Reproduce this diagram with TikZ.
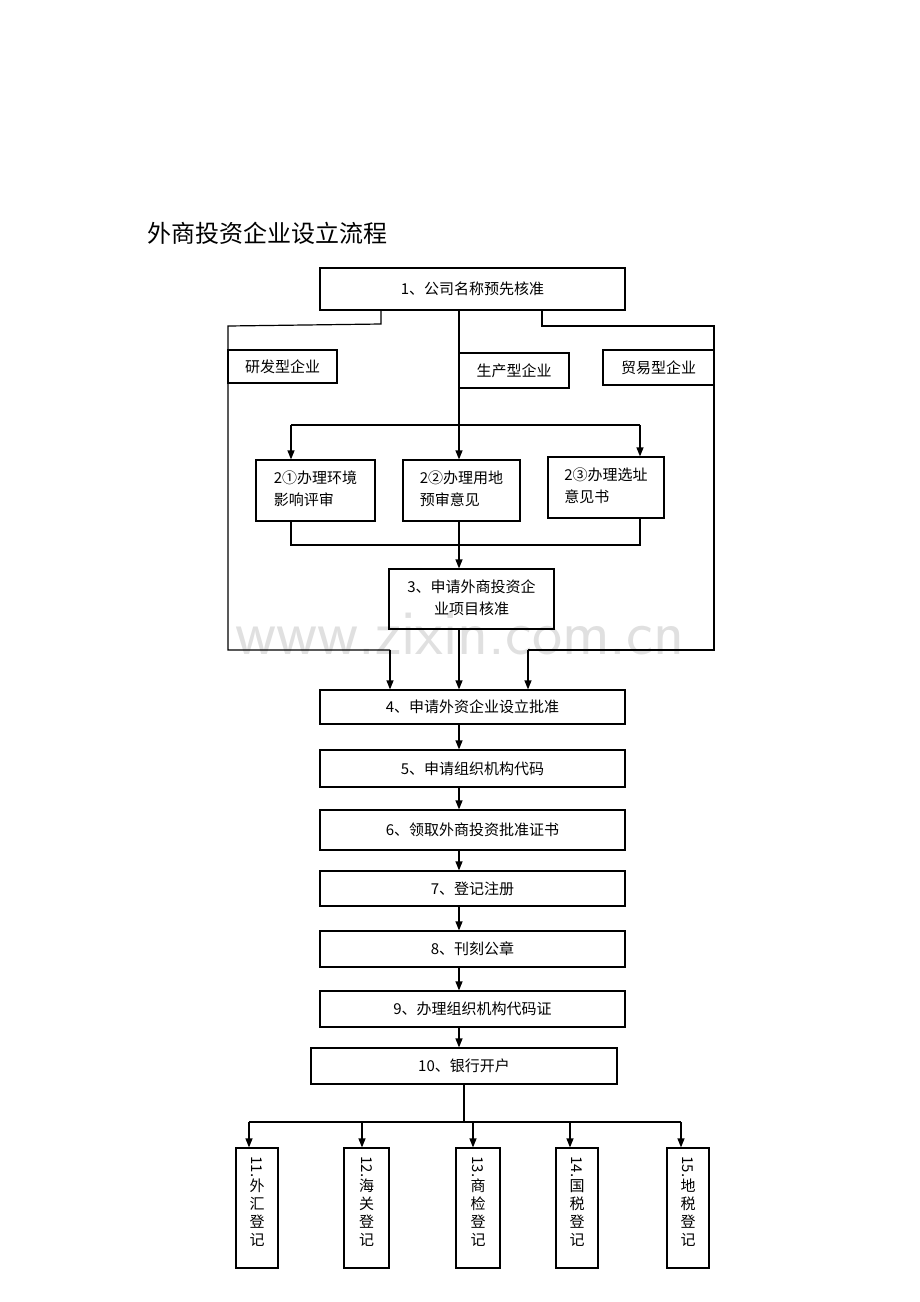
\documentclass[tikz,border=0pt]{standalone}
\usepackage{fontspec}
\setmainfont{Noto Sans CJK SC}
\usetikzlibrary{arrows.meta}
\begin{document}
\begin{tikzpicture}[x=0.5pt,y=-0.5pt,
 bx/.style={draw,line width=0.6pt,inner sep=0,font=\fontsize{7.5}{11}\selectfont},
 ln/.style={line width=0.6pt},
 ar/.style={line width=0.6pt,-{Triangle[length=4.5pt,width=3.5pt]}}]
\useasboundingbox (0,0) rectangle (920,1302);
\node[anchor=west,font=\fontsize{12}{14}\selectfont] (t) at (140,233) {外商投资企业设立流程};
\node[text=black!12,font=\fontsize{32}{36}\selectfont\sffamily] (wm) at (460,634) {www.zixin.com.cn};
\newcommand\bx[6]{\node[bx,minimum width=#4*0.5pt-#2*0.5pt,minimum height=#5*0.5pt-#3*0.5pt] (#1) at ({(#2+#4)/2},{(#3+#5)/2}) {#6};}
\bx{b1}{320}{268}{625}{310}{1、公司名称预先核准}
\bx{ra}{228}{350}{337}{383}{研发型企业}
\bx{sc}{459}{353}{569}{388}{生产型企业}
\bx{my}{603}{350}{714}{385}{贸易型企业}
\bx{c1}{256}{460}{375}{521}{\begin{tabular}{@{}l@{}}2①办理环境\\影响评审\end{tabular}}
\bx{c2}{403}{460}{520}{521}{\begin{tabular}{@{}l@{}}2②办理用地\\预审意见\end{tabular}}
\bx{c3}{548}{457}{664}{518}{\begin{tabular}{@{}l@{}}2③办理选址\\意见书\end{tabular}}
\bx{b3}{389}{569}{554}{629}{\begin{tabular}{@{}c@{}}3、申请外商投资企\\业项目核准\end{tabular}}
\bx{b4}{320}{690}{625}{724}{4、申请外资企业设立批准}
\bx{b5}{320}{750}{625}{787}{5、申请组织机构代码}
\bx{b6}{320}{810}{625}{850}{6、领取外商投资批准证书}
\bx{b7}{320}{871}{625}{906}{7、登记注册}
\bx{b8}{320}{931}{625}{967}{8、刊刻公章}
\bx{b9}{320}{991}{625}{1027}{9、办理组织机构代码证}
\bx{b10}{311}{1048}{617}{1084}{10、银行开户}
\newcommand\vb[6]{\node[bx,minimum width=#3*0.5pt-#2*0.5pt,minimum height=60pt] (#1) at ({(#2+#3)/2},1208) {};
 \node[font=\fontsize{7.5}{9}\selectfont,anchor=north,align=center,inner sep=0] (#1t) at ({(#2+#3)/2},1156) {\rotatebox{-90}{#4}\\#5\\#6};}
\vb{d1}{236}{278}{11.}{外\\汇\\登}{记}
\vb{d2}{344}{389}{12.}{海\\关\\登}{记}
\vb{d3}{456}{500}{13.}{商\\检\\登}{记}
\vb{d4}{556}{598}{14.}{国\\税\\登}{记}
\vb{d5}{667}{709}{15.}{地\\税\\登}{记}
% top branches
\coordinate (l1) at (381,324); \coordinate (l2) at (228,326); \coordinate (l3) at (228,650); \coordinate (l4) at (390,650);
\draw[ln] (b1.south -| l1) -- (l1) -- (l2) -- (l3) -- (l4);
\draw[ar] (l4) -- (b4.north -| l4);
\coordinate (r1) at (542,326); \coordinate (r2) at (714,326); \coordinate (r3) at (714,650); \coordinate (r4) at (528,650);
\draw[ln] (b1.south -| r1) -- (r1) -- (r2) -- (r3) -- (r4);
\draw[ar] (r4) -- (b4.north -| r4);
\coordinate (m1) at (459,425); \coordinate (ml) at (291,425); \coordinate (mr) at (640,425);
\draw[ln] (b1.south -| m1) -- (m1);
\draw[ln] (ml) -- (mr);
\draw[ar] (ml) -- (c1.north -| ml);
\draw[ar] (m1) -- (c2.north -| m1);
\draw[ar] (mr) -- (c3.north -| mr);
\coordinate (j1) at (291,545); \coordinate (j2) at (640,545); \coordinate (jm) at (459,545);
\draw[ln] (c1.south -| j1) -- (j1) -- (j2) -- (c3.south -| j2);
\draw[ln] (c2.south -| jm) -- (jm);
\draw[ar] (jm) -- (b3.north -| jm);
\draw[ar] (b3.south -| jm) -- (b4.north -| jm);
\foreach \a/\b in {b4/b5,b5/b6,b6/b7,b7/b8,b8/b9,b9/b10} \draw[ar] (\a.south -| jm) -- (\b.north -| jm);
\coordinate (k) at (464,1122); \coordinate (k1) at (249,1122); \coordinate (k5) at (681,1122);
\draw[ln] (b10.south -| k) -- (k);
\draw[ln] (k1) -- (k5);
\foreach \d/\x in {d1/249,d2/362,d3/473,d4/570,d5/681} \draw[ar] (\x,1122) -- (\d.north -| \x,0);
\end{tikzpicture}
\end{document}
